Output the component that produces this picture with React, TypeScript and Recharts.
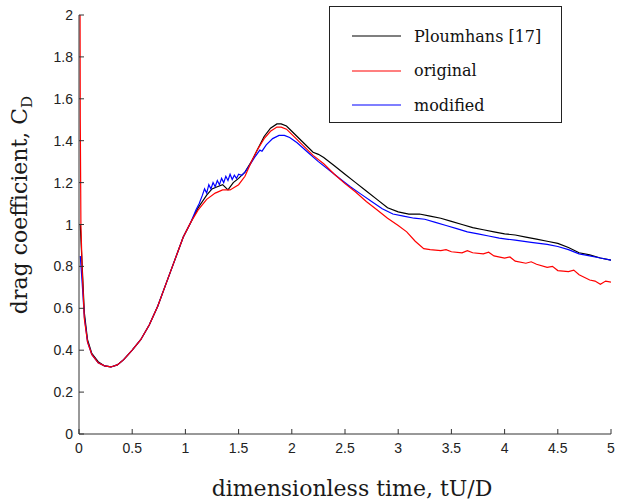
import { LineChart, Line, XAxis, YAxis } from "recharts";

// Ploumhans [17]
const refT = [0.012, 0.03, 0.05, 0.08, 0.12, 0.18, 0.24, 0.3, 0.36, 0.42, 0.5, 0.58, 0.66, 0.74, 0.82, 0.9, 0.98, 1.05, 1.12, 1.2, 1.25, 1.3, 1.35, 1.4, 1.45, 1.5, 1.56, 1.62, 1.68, 1.74, 1.8, 1.86, 1.9, 1.95, 2.0, 2.1, 2.2, 2.25, 2.3, 2.4, 2.5, 2.6, 2.7, 2.8, 2.9, 3.0, 3.1, 3.2, 3.3, 3.4, 3.5, 3.6, 3.7, 3.8, 3.9, 4.0, 4.1, 4.2, 4.3, 4.4, 4.5, 4.6, 4.7, 4.8, 4.9, 5.0];
const refCd = [1.0, 0.8, 0.58, 0.45, 0.385, 0.345, 0.325, 0.32, 0.33, 0.355, 0.4, 0.45, 0.52, 0.61, 0.72, 0.83, 0.94, 1.01, 1.08, 1.14, 1.17, 1.18, 1.19, 1.165, 1.2, 1.22, 1.25, 1.3, 1.36, 1.42, 1.46, 1.48, 1.48, 1.47, 1.445, 1.395, 1.345, 1.335, 1.32, 1.28, 1.24, 1.2, 1.16, 1.12, 1.08, 1.06, 1.05, 1.05, 1.04, 1.03, 1.015, 1.0, 0.985, 0.975, 0.965, 0.955, 0.95, 0.94, 0.93, 0.92, 0.91, 0.89, 0.865, 0.855, 0.84, 0.83];

// original
const origT = [0.01, 0.012, 0.018, 0.03, 0.05, 0.08, 0.12, 0.18, 0.24, 0.3, 0.36, 0.42, 0.5, 0.58, 0.66, 0.74, 0.82, 0.9, 0.98, 1.05, 1.12, 1.2, 1.28, 1.35, 1.42, 1.5, 1.56, 1.62, 1.68, 1.74, 1.8, 1.86, 1.9, 1.95, 2.0, 2.1, 2.2, 2.3, 2.4, 2.5, 2.6, 2.7, 2.8, 2.9, 3.0, 3.08, 3.16, 3.24, 3.3, 3.4, 3.45, 3.5, 3.6, 3.65, 3.7, 3.8, 3.85, 3.9, 4.0, 4.05, 4.1, 4.2, 4.25, 4.3, 4.4, 4.45, 4.5, 4.6, 4.65, 4.7, 4.8, 4.85, 4.9, 4.95, 5.0];
const origCd = [2.0, 1.5, 1.0, 0.78, 0.55, 0.44, 0.38, 0.34, 0.325, 0.32, 0.33, 0.355, 0.4, 0.45, 0.52, 0.61, 0.72, 0.83, 0.94, 1.01, 1.07, 1.12, 1.15, 1.165, 1.165, 1.19, 1.23, 1.3, 1.36, 1.41, 1.445, 1.465, 1.465, 1.455, 1.43, 1.38, 1.33, 1.29, 1.24, 1.195, 1.155, 1.11, 1.07, 1.03, 0.995, 0.965, 0.92, 0.885, 0.88, 0.875, 0.88, 0.87, 0.865, 0.875, 0.865, 0.86, 0.868, 0.85, 0.84, 0.845, 0.825, 0.815, 0.822, 0.81, 0.795, 0.8, 0.78, 0.775, 0.782, 0.76, 0.735, 0.73, 0.715, 0.73, 0.725];

// modified
const modT = [0.012, 0.03, 0.05, 0.08, 0.12, 0.18, 0.24, 0.3, 0.36, 0.42, 0.5, 0.58, 0.66, 0.74, 0.82, 0.9, 0.98, 1.05, 1.1, 1.13, 1.16, 1.18, 1.2, 1.22, 1.24, 1.26, 1.28, 1.3, 1.32, 1.34, 1.36, 1.38, 1.4, 1.42, 1.44, 1.46, 1.48, 1.5, 1.53, 1.56, 1.6, 1.65, 1.7, 1.72, 1.76, 1.82, 1.88, 1.93, 1.98, 2.05, 2.15, 2.25, 2.35, 2.45, 2.55, 2.65, 2.75, 2.85, 2.95, 3.05, 3.15, 3.25, 3.35, 3.45, 3.55, 3.65, 3.75, 3.85, 3.95, 4.1, 4.25, 4.4, 4.5, 4.6, 4.7, 4.8, 4.9, 5.0];
const modCd = [0.85, 0.72, 0.56, 0.44, 0.38, 0.34, 0.325, 0.32, 0.33, 0.355, 0.4, 0.45, 0.52, 0.61, 0.72, 0.83, 0.94, 1.01, 1.07, 1.1, 1.14, 1.17, 1.15, 1.19, 1.17, 1.2, 1.18, 1.21, 1.19, 1.22, 1.2, 1.23, 1.21, 1.24, 1.215, 1.235, 1.22, 1.24, 1.235, 1.25, 1.28, 1.32, 1.355, 1.35, 1.38, 1.41, 1.425, 1.425, 1.415, 1.39, 1.345, 1.3, 1.26, 1.22, 1.18, 1.145, 1.11, 1.075, 1.05, 1.04, 1.03, 1.025, 1.01, 0.995, 0.98, 0.965, 0.955, 0.945, 0.935, 0.925, 0.915, 0.905, 0.895, 0.88, 0.86, 0.85, 0.84, 0.83];

const xTicks = [0, 0.5, 1, 1.5, 2, 2.5, 3, 3.5, 4, 4.5, 5];
const yTicks = [0, 0.2, 0.4, 0.6, 0.8, 1, 1.2, 1.4, 1.6, 1.8, 2];
const yTickLabels = ["0", "0.2", "0.4", "0.6", "0.8", "1", "1.2", "1.4", "1.6", "1.8", "2"];

const seriesNames = ["Ploumhans [17]", "original", "modified"];
const seriesColors = ["#000000", "#ff0000", "#0000ff"];

const toRows = (t: number[], cd: number[]) => t.map((v, i) => ({ t: v, cd: cd[i] }));

const refData = toRows(refT, refCd);
const origData = toRows(origT, origCd);
const modData = toRows(modT, modCd);

const tickFont = { fontFamily: "Liberation Sans, Arial, sans-serif", fontSize: 14, fill: "#222" };
const axisColor = "#333";

const XTick = (props: any) => {
  const { x, y, payload } = props;
  return (
    <g>
      <line x1={x} x2={x} y1={y} y2={y - 5} stroke={axisColor} />
      <text x={x} y={y + 19} textAnchor="middle" {...tickFont}>
        {payload.value}
      </text>
    </g>
  );
};

const YTick = (props: any) => {
  const { x, y, payload } = props;
  const idx = yTicks.indexOf(payload.value);
  return (
    <g>
      <line x1={x} x2={x + 5} y1={y} y2={y} stroke={axisColor} />
      <text x={x - 6} y={y + 5} textAnchor="end" {...tickFont}>
        {idx >= 0 ? yTickLabels[idx] : payload.value}
      </text>
    </g>
  );
};

export default function App() {
  return (
    <div style={{ position: "absolute", left: 0, top: 0, width: 625, height: 502, background: "#fff" }}>
      <LineChart width={625} height={502} margin={{ top: 15, right: 14, bottom: 0, left: 0 }}>
        <XAxis
          dataKey="t"
          type="number"
          domain={[0, 5]}
          ticks={xTicks}
          height={68}
          tickSize={0}
          tickMargin={0}
          tickLine={false}
          tick={<XTick />}
          stroke={axisColor}
          allowDataOverflow
        />
        <YAxis
          dataKey="cd"
          type="number"
          domain={[0, 2]}
          ticks={yTicks}
          width={79}
          tickSize={0}
          tickMargin={0}
          tickLine={false}
          tick={<YTick />}
          stroke={axisColor}
          allowDataOverflow
        />
        <Line data={refData} dataKey="cd" name={seriesNames[0]} stroke={seriesColors[0]} strokeWidth={1.2} dot={false} isAnimationActive={false} />
        <Line data={modData} dataKey="cd" name={seriesNames[2]} stroke={seriesColors[2]} strokeWidth={1.2} dot={false} isAnimationActive={false} />
        <Line data={origData} dataKey="cd" name={seriesNames[1]} stroke={seriesColors[1]} strokeWidth={1.2} dot={false} isAnimationActive={false} />
        <text
          x={27}
          y={205}
          transform="rotate(-90 27 205)"
          textAnchor="middle"
          fontFamily="DejaVu Serif, serif"
          fontSize={22}
          fill="#1a1a1a"
        >
          drag coefficient, C
          <tspan fontSize={15} dy={5}>D</tspan>
        </text>
        <text
          x={352}
          y={496}
          textAnchor="middle"
          fontFamily="DejaVu Serif, serif"
          fontSize={22}
          fill="#1a1a1a"
        >
          dimensionless time, tU/D
        </text>
      </LineChart>
      <div
        style={{
          position: "absolute",
          left: 329,
          top: 6,
          width: 231,
          height: 115,
          border: "1px solid #222",
          background: "#fff",
          fontFamily: "DejaVu Serif, serif",
          fontSize: 16,
          color: "#111",
        }}
      >
        {seriesNames.map((name, i) => (
          <div
            key={name}
            style={{ position: "absolute", left: 0, top: 19 + i * 34.5, height: 20, display: "flex", alignItems: "center" }}
          >
            <svg width={71} height={4} style={{ display: "block" }}>
              <line x1={22} x2={71} y1={2} y2={2} stroke={seriesColors[i]} strokeWidth={1.2} />
            </svg>
            <span style={{ marginLeft: 13 }}>{name}</span>
          </div>
        ))}
      </div>
    </div>
  );
}
